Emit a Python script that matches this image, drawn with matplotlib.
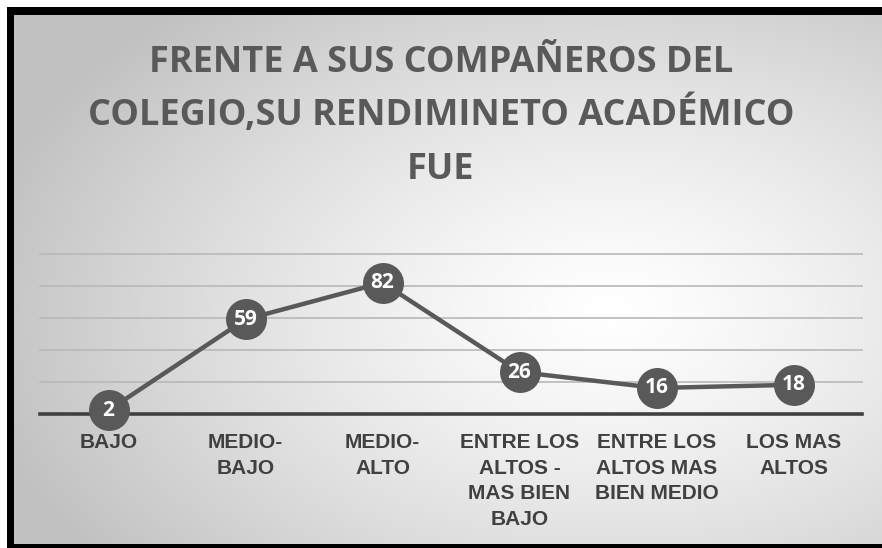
import numpy as np
import matplotlib
matplotlib.use("Agg")
import matplotlib.pyplot as plt
from matplotlib.patches import Rectangle

plt.rcParams["savefig.bbox"] = "standard"

categories = ["BAJO", "MEDIO-\nBAJO", "MEDIO-\nALTO", "ENTRE LOS\nALTOS -\nMAS BIEN\nBAJO",
              "ENTRE LOS\nALTOS MAS\nBIEN MEDIO", "LOS MAS\nALTOS"]
values = [2, 59, 82, 26, 16, 18]
title_lines = ["FRENTE A SUS COMPAÑEROS DEL", "COLEGIO,SU RENDIMINETO ACADÉMICO", "FUE"]

W, H = 882, 548
fig = plt.figure(figsize=(W / 100, H / 100), dpi=100, facecolor="white")

def fx(px):
    return px / W

def fy(py):
    return 1 - py / H

def strip(xa, ya, xb, yb, color):
    fig.patches.append(Rectangle((fx(xa), fy(yb)), fx(xb) - fx(xa), fy(ya) - fy(yb),
                                 transform=fig.transFigure, facecolor=color,
                                 edgecolor="none", zorder=2))

# radial gradient background covering the whole canvas
gx, gy = np.meshgrid(np.arange(0, W), np.arange(0, H))
r = np.sqrt(((gx - 610) / 620) ** 2 + ((gy - 310) / 390) ** 2)
val = np.clip(1.0 - 0.23 * r ** 1.3, 0.76, 1.0)
img = np.dstack([val, val, val])
fig.figimage(img, xo=0, yo=0, origin="upper", zorder=1)

# white outer margin and black frame (left, top, bottom)
strip(0, 0, 7, H, "white")
strip(0, 0, W, 7, "white")
strip(7, 7, 14, H, "black")
strip(7, 7, W, 15, "black")
strip(7, 544, W, H, "black")

ax = fig.add_axes([fx(40), fy(413.5), fx(862) - fx(40), fy(254) - fy(413.5)], zorder=3)
ax.patch.set_alpha(0)
x = np.arange(len(values))
ax.set_xlim(-0.5, len(values) - 0.5)
ax.set_ylim(0, 100)
for s in ax.spines.values():
    s.set_visible(False)
for g in [20, 40, 60, 80, 100]:
    ax.axhline(g, color="#b8b8b8", lw=1.2, zorder=1, clip_on=False)
ax.axhline(0, color="#404040", lw=2.6, zorder=2, clip_on=False)

ax.plot(x, values, color="#595959", lw=3.2, zorder=3, clip_on=False,
        marker="o", markersize=29.5, markerfacecolor="#595959",
        markeredgecolor="#595959", markeredgewidth=0)
for xi, v in zip(x, values):
    ax.text(xi, v, str(v), ha="center", va="center", color="white",
            fontsize=15, fontweight="bold", family="Open Sans", zorder=5)

ax.set_yticks([])
ax.set_xticks(x)
ax.set_xticklabels(categories, fontsize=15, fontweight="bold",
                   family="Liberation Sans", color="#404040",
                   linespacing=1.44, va="top")
ax.tick_params(axis="x", length=0, pad=14)

for line, base in zip(title_lines, [72, 125.5, 179]):
    fig.text(0.5, fy(base), line, ha="center", va="baseline", fontsize=26,
             fontweight="bold", family="Open Sans", color="#595959", zorder=4)

fig.savefig("out.png", dpi=100, facecolor="white")
